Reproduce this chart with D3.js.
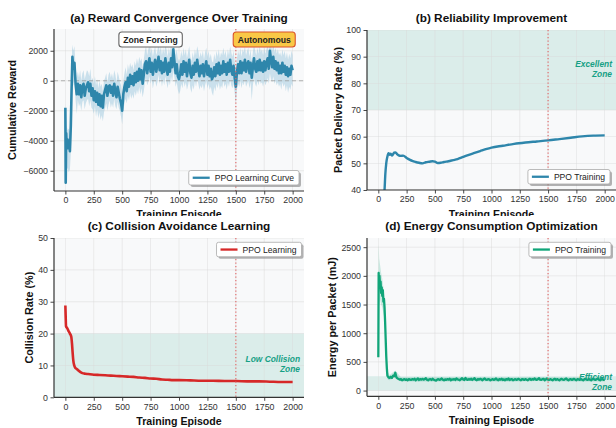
<!DOCTYPE html>
<html>
<head>
<meta charset="utf-8">
<script src="https://cdn.jsdelivr.net/npm/d3@7"></script>
<style>
  body { margin: 0; background: #fff; }
  svg { display: block; font-family: "Liberation Sans", Arial, sans-serif; }
</style>
</head>
<body>
<div id="chart"></div>
<script>
// ---- data ----
const xTicks = [0, 250, 500, 750, 1000, 1250, 1500, 1750, 2000];
const switchEpisode = 1500;

// (a) reward: dense head, then every 10 episodes
const rewardHeadEp = [0, 3, 7, 12, 18, 25, 32, 40, 48, 55, 62, 70, 80, 90, 100];
const rewardHeadVal = [-1800, -6800, -3500, -4300, -3900, -4500, -4000, -4700, -3000, -500, 1600, 800, 1200, -200, -900];
const rewardTailVal = [
  -200, -900, -300, -1100, -400, -200, -1000, -500, -300, -100,
  -700, -200, -1000, -500, -1300, -700, -1400, -800, -1600, -900,
  -1700, -1000, -1800, -900, -600, -300, -1000, -400, -300, -800,
  -400, -1000, -200, -700, -1100, -400, -800, -1200, -1500, -2000,
  -900, -400, -100, -700, 200, -400, 400, -200, 300, -300,
  500, -100, 600, 0, 800, 100, 700, -200, 400, 1100,
  1300, 500, 1100, 1500, 600, 1200, 400, 1000, 1400, 600,
  1100, 1600, 700, 1300, 500, 1200, 600, 1500, 900, 400,
  1200, 600, 1500, 900, 2100, 1300, 500, 1100, 300, 100,
  500, 1100, 400, 1300, 600, 1200, 300, 900, 1400, 500,
  200, 1000, 400, 1200, 600, 1400, 800, 300, 1000, 500,
  1100, 300, 900, 1300, 400, 1000, 300, 800, 100, 300,
  900, 300, 1100, 500, 1200, 400, 1000, 500, 1300, 600,
  1100, 400, 1200, 600, 1400, 700, 400, 1000, 200, -400,
  600, 1100, 500, 1300, 500, 1200, 700, 1400, 600, 1100,
  1300, 500, 1200, 200, 900, 1500, 800, 600, 1300, 700,
  1400, 700, 1200, 600, 1300, 700, 1200, 1500, 800, 2000,
  1400, 900, 1600, 800, 1300, 700, 1200, 500, 1000, 500,
  1200, 600, 1000, 400, 900, 300, 800, 400, 1000, 700
];
// raw-reward spread, every 10 episodes from 0 to 2000
const rewardBandHi = [
  -1500, -3000, -3300, -3200, -3400, -1000, 2400, 2000, 2300, 900, 200,
  600, 200, 700, 0, 500, 700, 100, 400, 700, 600,
  300, 800, 0, 200, -200, 300, -300, 100, -500, 0,
  -400, -200, -700, 0, 200, 500, -100, 400, 600, 200,
  500, 100, 700, 400, -100, 600, 300, -100, -300, -900,
  0, 500, 900, 400, 1100, 700, 1200, 900, 1100, 700,
  1300, 1000, 1500, 1100, 1600, 1300, 1500, 900, 1400, 2000,
  2300, 1700, 2100, 2400, 1800, 2200, 1600, 2000, 2300, 1700,
  2000, 2500, 1900, 2300, 1700, 2200, 1800, 2400, 2100, 1600,
  2200, 1800, 2400, 2000, 2900, 2300, 1700, 2100, 1500, 1300,
  1500, 2000, 1600, 2200, 1700, 2100, 1500, 1900, 2300, 1600,
  1300, 1900, 1500, 2100, 1700, 2300, 2000, 1500, 1900, 1600,
  2000, 1400, 1900, 2200, 1600, 2000, 1500, 1800, 1300, 1200,
  1800, 1400, 2000, 1600, 2100, 1500, 1900, 1700, 2200, 1700,
  2000, 1500, 2100, 1700, 2300, 1900, 1600, 2000, 1300, 800,
  1500, 2000, 1700, 2200, 1600, 2100, 1900, 2300, 1700, 2000,
  2200, 1600, 2100, 1300, 1900, 2400, 2000, 1700, 2200, 1800,
  2300, 1900, 2100, 1700, 2200, 1800, 2100, 2400, 1900, 2900,
  2300, 2000, 2500, 1900, 2200, 1800, 2100, 1700, 1900, 1600,
  2100, 1700, 2000, 1500, 1900, 1400, 1800, 1500, 2000, 1700
];
const rewardBandLo = [
  -6900, -6000, -5800, -6100, -5900, -4500, -200, -300, 100, -1300, -2200,
  -1300, -1700, -1500, -2000, -1400, -1300, -1900, -1500, -1300, -1200,
  -1700, -1300, -1800, -1900, -2200, -1700, -2400, -1900, -2500, -2100,
  -2600, -2300, -2700, -2100, -1800, -1500, -2000, -1600, -1300, -1800,
  -1500, -1800, -1200, -1700, -1900, -1400, -1800, -2000, -2400, -2900,
  -2000, -1500, -1200, -1500, -1000, -1300, -800, -1200, -900, -1200,
  -700, -1000, -600, -900, -400, -900, -500, -1100, -700, -100,
  200, -300, -100, 300, -200, 100, -500, -100, 100, -400,
  -100, 400, -200, 200, -400, 100, -300, 300, -100, -500,
  0, -300, 300, -100, 700, 200, -400, -100, -600, -900,
  -700, -200, -500, 0, -400, -100, -600, -300, 100, -500,
  -800, -300, -600, 0, -400, 100, -200, -600, -300, -500,
  -200, -700, -300, 0, -500, -200, -600, -400, -800, -1000,
  -400, -700, -200, -500, -100, -600, -300, -500, 0, -400,
  -200, -600, -100, -400, 100, -300, -500, -200, -800, -1500,
  -600, -200, -400, 0, -500, -100, -300, 100, -400, -200,
  0, -500, -100, -1300, -300, 200, -200, -400, 0, -300,
  100, -200, -100, -400, 0, -300, -100, 200, -200, 500,
  100, -100, 300, -200, 0, -300, -100, -400, -200, -600,
  -100, -400, -200, -700, -300, -800, -400, -600, -200, -400
];

// (b) packet delivery rate (%)
const pdrEp = [0, 20, 40, 55, 62, 70, 80, 90, 100, 110, 120, 130, 140, 150, 165, 180, 200, 220, 250, 280,
  300, 330, 360, 390, 420, 450, 480, 500, 525, 550, 580, 620, 660, 700, 750, 800, 850, 900, 950, 1000,
  1100, 1200, 1300, 1400, 1500, 1600, 1700, 1800, 1900, 2000];
const pdrVal = [10, 22, 33, 40, 46, 50, 52.5, 53.8, 53.2, 53.6, 52.9, 53.4, 54, 54.1, 53.5, 53.0, 52.8, 52.9, 52.0, 51.3,
  50.9, 50.5, 50.2, 50.0, 50.4, 50.6, 50.8, 50.6, 50.1, 50.2, 50.5, 50.8, 51.2, 51.6, 52.4, 53.2, 53.9, 54.6, 55.3, 55.9,
  56.6, 57.3, 57.8, 58.2, 58.6, 59.1, 59.6, 60.1, 60.4, 60.5];

// (c) collision rate (%)
const colEp = [0, 3, 6, 15, 25, 40, 52, 58, 64, 70, 78, 88, 100, 115, 130, 150, 175, 200, 250, 300,
  350, 400, 450, 500, 550, 600, 650, 700, 750, 800, 850, 900, 950, 1000, 1100, 1200, 1300, 1400, 1500, 1600,
  1700, 1800, 1900, 2000];
const colVal = [28.8, 25, 22.2, 21.8, 21, 20, 19, 17, 14, 11.5, 10, 9.2, 8.9, 8.4, 8.0, 7.6, 7.4, 7.3, 7.1, 7.0,
  6.9, 6.8, 6.7, 6.6, 6.5, 6.4, 6.2, 6.1, 5.9, 5.8, 5.6, 5.5, 5.4, 5.4, 5.3, 5.2, 5.2, 5.1, 5.1, 5.0,
  5.0, 4.9, 4.8, 4.8];

// (d) energy per packet (mJ)
const energyHeadEp = [0, 3, 6, 10, 15, 20, 25, 30, 35, 40, 45, 50, 55, 60, 65, 70, 75, 80, 90, 100];
const energyHeadVal = [580, 2050, 1800, 2000, 1850, 1900, 1700, 1800, 1650, 1750, 1550, 1600, 1450, 1200, 900, 600, 400, 260, 230, 220];
const energyTailVal = [
  240, 220, 260, 250, 310, 230, 210, 200, 190, 200,
  180, 190, 200, 185, 195, 180, 200, 190, 185, 200,
  190, 205, 180, 195, 210, 185, 200, 190, 205, 190,
  200, 215, 190, 180, 195, 200, 185, 205, 190, 180,
  175, 190, 200, 185, 195, 210, 190, 180, 195, 185,
  200, 190, 205, 180, 195, 190, 200, 185, 210, 195,
  190, 180, 200, 215, 195, 185, 220, 195, 185, 200,
  190, 205, 185, 200, 215, 190, 180, 200, 190, 205,
  195, 180, 200, 210, 190, 185, 200, 195, 180, 190,
  200, 185, 195, 210, 190, 180, 200, 190, 205, 185,
  195, 180, 200, 190, 210, 185, 195, 200, 180, 190,
  200, 185, 195, 205, 190, 180, 200, 195, 185, 200,
  190, 180, 195, 205, 185, 200, 190, 210, 195, 185,
  200, 215, 190, 185, 200, 205, 180, 195, 210, 190,
  185, 200, 190, 180, 195, 205, 185, 200, 190, 180,
  195, 205, 190, 185, 200, 210, 190, 180, 195, 200,
  185, 195, 205, 190, 180, 200, 195, 185, 200, 190,
  180, 195, 205, 190, 185, 200, 190, 180, 195, 205,
  190, 185, 200, 210, 190, 180, 195, 200, 185, 190
];
const energyBandEp = [0, 3, 8, 15, 25, 35, 45, 55, 65, 75, 85, 100, 150, 200, 400, 600, 800, 1000, 1200, 1400, 1600, 1800, 2000];
const energyBandHi = [1300, 2550, 2300, 2200, 2050, 1950, 1800, 1600, 1100, 550, 320, 270, 350, 230, 230, 230, 235, 230, 230, 235, 230, 230, 230];
const energyBandLo = [500, 1500, 1500, 1600, 1500, 1450, 1350, 1250, 700, 300, 190, 180, 260, 160, 160, 160, 165, 160, 160, 165, 160, 160, 160];

const rewardEp = rewardHeadEp.concat(d3.range(110, 2001, 10));
const rewardVal = rewardHeadVal.concat(rewardTailVal);
const rewardBandEp = d3.range(0, 2001, 10);
const energyEp = energyHeadEp.concat(d3.range(110, 2001, 10));
const energyVal = energyHeadVal.concat(energyTailVal);

// ---- drawing ----
const W = 616, H = 428;
const svg = d3.select("#chart").append("svg").attr("width", W).attr("height", H);
const defs = svg.append("defs");
defs.append("clipPath").attr("id", "topRow").append("rect")
  .attr("x", 0).attr("y", 0).attr("width", W).attr("height", 216);
const topRow = svg.append("g").attr("clip-path", "url(#topRow)");
const bottomRow = svg.append("g");

const zoneColor = "#16a085";
const fmt = d3.format("d");

function panel(parent, o) {
  const x = d3.scaleLinear().domain([-100, 2100]).range([o.left, o.right]);
  const y = d3.scaleLinear().domain(o.yDomain).range([o.bottom, o.top]);
  const g = parent.append("g");

  defs.append("clipPath").attr("id", "clip-" + o.id).append("rect")
    .attr("x", o.left).attr("y", o.top)
    .attr("width", o.right - o.left).attr("height", o.bottom - o.top);

  g.append("rect")
    .attr("x", o.left).attr("y", o.top)
    .attr("width", o.right - o.left).attr("height", o.bottom - o.top)
    .attr("fill", "#f8f9fa");

  const plot = g.append("g").attr("clip-path", "url(#clip-" + o.id + ")");

  if (o.zone) {
    plot.append("rect")
      .attr("x", o.left).attr("width", o.right - o.left)
      .attr("y", y(o.zone[1])).attr("height", y(o.zone[0]) - y(o.zone[1]))
      .attr("fill", zoneColor).attr("opacity", 0.13);
  }

  // grid
  plot.selectAll(".gx").data(xTicks).enter().append("line")
    .attr("x1", d => x(d)).attr("x2", d => x(d))
    .attr("y1", o.top).attr("y2", o.bottom)
    .attr("stroke", "#dadada").attr("stroke-width", 0.6).attr("opacity", 0.8);
  plot.selectAll(".gy").data(o.yTicks).enter().append("line")
    .attr("y1", d => y(d)).attr("y2", d => y(d))
    .attr("x1", o.left).attr("x2", o.right)
    .attr("stroke", "#dadada").attr("stroke-width", 0.6).attr("opacity", 0.8);

  // axes
  const ax = g.append("g").attr("transform", `translate(0,${o.bottom})`)
    .call(d3.axisBottom(x).tickValues(xTicks).tickFormat(fmt).tickSize(3.5).tickSizeOuter(0).tickPadding(2.5));
  const ay = g.append("g").attr("transform", `translate(${o.left},0)`)
    .call(d3.axisLeft(y).tickValues(o.yTicks).tickFormat(fmt).tickSize(3.5).tickSizeOuter(0).tickPadding(2.5));
  [ax, ay].forEach(a => {
    a.select(".domain").attr("stroke", "#333").attr("stroke-width", 1.2);
    a.selectAll(".tick line").attr("stroke", "#333").attr("stroke-width", 0.9);
    a.selectAll(".tick text").attr("fill", "#333").style("font-size", "8.8px")
      .style("font-family", "'Liberation Sans', Arial, sans-serif");
  });
  ax.select(".domain").attr("d", `M${o.left},0H${o.right}`);
  ay.select(".domain").attr("d", `M0,${o.top}V${o.bottom}`);

  // titles and labels
  g.append("text").attr("x", (o.left + o.right) / 2).attr("y", o.titleY)
    .attr("text-anchor", "middle").attr("font-weight", "bold").attr("font-size", 11.8)
    .attr("fill", "#111").text(o.title);
  g.append("text").attr("x", (o.left + o.right) / 2).attr("y", o.bottom + o.xLabelGap)
    .attr("text-anchor", "middle").attr("font-weight", "bold").attr("font-size", 10.6)
    .attr("fill", "#111").text("Training Episode");
  g.append("text")
    .attr("transform", `translate(${o.yLabelX},${(o.top + o.bottom) / 2}) rotate(-90)`)
    .attr("text-anchor", "middle").attr("font-weight", "bold").attr("font-size", 10.8)
    .attr("fill", "#111").text(o.yLabel);

  return { x, y, g, plot };
}

function zoneLabel(p, o) {
  o.zoneText.forEach((t, i) => {
    p.g.append("text").attr("x", o.right - 4).attr("y", o.zoneTextY + i * 10)
      .attr("text-anchor", "end").attr("font-size", 8.4)
      .attr("font-weight", "bold").attr("font-style", "italic")
      .attr("fill", zoneColor).text(t);
  });
}

function vline(p, o) {
  p.plot.append("line")
    .attr("x1", p.x(switchEpisode)).attr("x2", p.x(switchEpisode))
    .attr("y1", o.top).attr("y2", o.bottom)
    .attr("stroke", "#e06666").attr("stroke-width", 1.3)
    .attr("stroke-dasharray", "1.3,2.2").attr("opacity", 0.85);
}

function legend(p, o, label, color, pos) {
  const lg = p.g.append("g");
  const txt = lg.append("text").attr("font-size", 8.6).attr("fill", "#222").text(label);
  const tw = txt.node().getComputedTextLength();
  const bw = 26 + tw + 5, bh = 14.5;
  const bx = o.right - o.legendInset - bw;
  const by = pos === "lr" ? o.bottom - 6 - bh : o.top + 4.3;
  lg.insert("rect", "text").attr("x", bx + 2).attr("y", by + 2).attr("width", bw).attr("height", bh)
    .attr("rx", 2).attr("fill", "#777").attr("opacity", 0.55);
  lg.insert("rect", "text").attr("x", bx).attr("y", by).attr("width", bw).attr("height", bh)
    .attr("rx", 2).attr("fill", "#fff").attr("stroke", "#aaa").attr("stroke-width", 0.8);
  lg.append("line").attr("x1", bx + 4).attr("x2", bx + 21)
    .attr("y1", by + bh / 2).attr("y2", by + bh / 2)
    .attr("stroke", color).attr("stroke-width", 2.3);
  txt.attr("x", bx + 26).attr("y", by + bh / 2 + 3);
}

// (a)
const oa = { id: "a", left: 54, right: 304, top: 29, bottom: 191, yDomain: [-7350, 3450],
  yTicks: [-6000, -4000, -2000, 0, 2000], title: "(a) Reward Convergence Over Training", titleY: 22,
  yLabel: "Cumulative Reward", yLabelX: 16, legendInset: 5, xLabelGap: 26.5 };
const pa = panel(topRow, oa);
pa.plot.append("path").datum(rewardBandEp)
  .attr("d", d3.area().x(d => pa.x(d))
    .y0((d, i) => pa.y(rewardBandLo[i])).y1((d, i) => pa.y(rewardBandHi[i])))
  .attr("fill", "#9cc8dd").attr("opacity", 0.5);
pa.plot.append("line").attr("x1", oa.left).attr("x2", oa.right)
  .attr("y1", pa.y(0)).attr("y2", pa.y(0))
  .attr("stroke", "#999").attr("stroke-width", 1).attr("stroke-dasharray", "4,3").attr("opacity", 0.7);
pa.plot.append("path").datum(rewardEp)
  .attr("d", d3.line().x(d => pa.x(d)).y((d, i) => pa.y(rewardVal[i])))
  .attr("fill", "none").attr("stroke", "#2e86ab").attr("stroke-width", 2.6).attr("stroke-linejoin", "round");
vline(pa, oa);
legend(pa, oa, "PPO Learning Curve", "#2e86ab", "lr");

// phase annotations
const phases = [
  { label: "Zone Forcing", ep: 750, fill: "#ffffff", stroke: "#666" },
  { label: "Autonomous", ep: 1750, fill: "#f9c846", stroke: "#d9532b" }
];
phases.forEach(ph => {
  const t = pa.g.append("text").attr("x", pa.x(ph.ep)).attr("y", 42.8)
    .attr("text-anchor", "middle").attr("font-size", 8.6).attr("font-weight", "bold")
    .attr("fill", "#222").text(ph.label);
  const w = t.node().getComputedTextLength() + 9;
  pa.g.insert("rect", () => t.node())
    .attr("x", pa.x(ph.ep) - w / 2).attr("y", 32).attr("width", w).attr("height", 15)
    .attr("rx", 3).attr("fill", ph.fill).attr("stroke", ph.stroke).attr("stroke-width", 1.1);
});

// (b)
const ob = { id: "b", left: 367, right: 616, top: 30, bottom: 190, yDomain: [40, 100],
  yTicks: [40, 50, 60, 70, 80, 90, 100], title: "(b) Reliability Improvement", titleY: 22,
  yLabel: "Packet Delivery Rate (%)", yLabelX: 342, zone: [70, 100],
  zoneText: ["Excellent", "Zone"], zoneTextY: 66.5, legendInset: 6, xLabelGap: 27.5 };
const pb = panel(topRow, ob);
pb.plot.append("path").datum(pdrEp)
  .attr("d", d3.line().x(d => pb.x(d)).y((d, i) => pb.y(pdrVal[i])).curve(d3.curveMonotoneX))
  .attr("fill", "none").attr("stroke", "#2e86ab").attr("stroke-width", 2.4);
vline(pb, ob);
legend(pb, ob, "PPO Training", "#2e86ab", "lr");
zoneLabel(pb, ob);

// (c)
const oc = { id: "c", left: 54, right: 304, top: 238, bottom: 397.3, yDomain: [0, 50],
  yTicks: [0, 10, 20, 30, 40, 50], title: "(c) Collision Avoidance Learning", titleY: 229.5,
  yLabel: "Collision Rate (%)", yLabelX: 33, zone: [0, 20],
  zoneText: ["Low Collision", "Zone"], zoneTextY: 362.3, legendInset: 2.5, xLabelGap: 27.5 };
const pc = panel(bottomRow, oc);
pc.plot.append("path").datum(colEp)
  .attr("d", d3.line().x(d => pc.x(d)).y((d, i) => pc.y(colVal[i])).curve(d3.curveMonotoneX))
  .attr("fill", "none").attr("stroke", "#d62828").attr("stroke-width", 2.6);
vline(pc, oc);
legend(pc, oc, "PPO Learning", "#d62828", "ur");
zoneLabel(pc, oc);

// (d)
const od = { id: "d", left: 367, right: 616, top: 238, bottom: 396.3, yDomain: [-100, 2660],
  yTicks: [0, 500, 1000, 1500, 2000, 2500], title: "(d) Energy Consumption Optimization", titleY: 229.5,
  yLabel: "Energy per Packet (mJ)", yLabelX: 336, zone: [0, 250],
  zoneText: ["Efficient", "Zone"], zoneTextY: 379.5, legendInset: 5, xLabelGap: 27.5 };
const pd = panel(bottomRow, od);
pd.plot.append("path").datum(energyBandEp)
  .attr("d", d3.area().x(d => pd.x(d))
    .y0((d, i) => pd.y(energyBandLo[i])).y1((d, i) => pd.y(energyBandHi[i])))
  .attr("fill", "#11a579").attr("opacity", 0.2);
pd.plot.append("path").datum(energyEp)
  .attr("d", d3.line().x(d => pd.x(d)).y((d, i) => pd.y(energyVal[i])))
  .attr("fill", "none").attr("stroke", "#11a579").attr("stroke-width", 2.3).attr("stroke-linejoin", "round");
vline(pd, od);
legend(pd, od, "PPO Training", "#11a579", "ur");
zoneLabel(pd, od);
</script>
</body>
</html>
